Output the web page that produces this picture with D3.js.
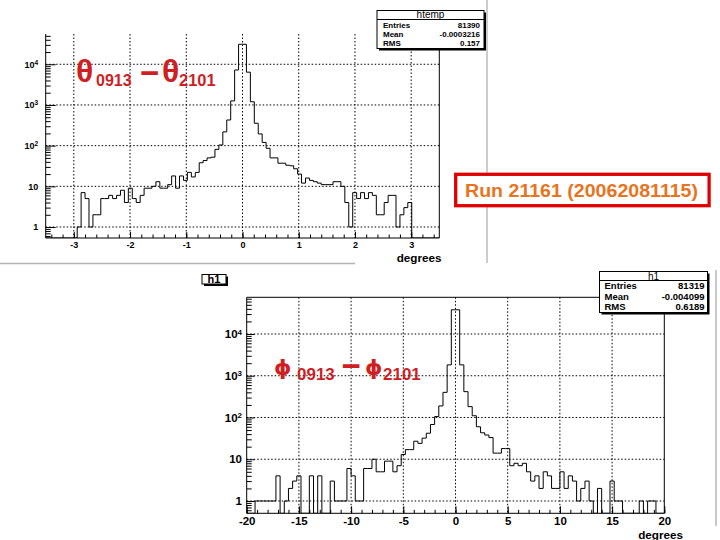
<!DOCTYPE html>
<html>
<head>
<meta charset="utf-8">
<script src="https://cdnjs.cloudflare.com/ajax/libs/d3/7.8.5/d3.min.js"></script>
<style>
  html, body { margin: 0; padding: 0; background: #fff; }
  svg { display: block; }
</style>
</head>
<body>
<div id="app"></div>
<script>
// 上图: theta 差的直方图 (100 bins, -3.5 .. 3.5)
const thetaCounts = [
  0, 0, 0, 0, 0, 0, 0, 0, 1, 7,
  5, 1, 2, 2, 5, 5, 6, 5, 6, 8,
  4, 9, 5, 4, 6, 9, 9, 10, 13, 9,
  9, 11, 18, 9, 18, 14, 22, 17, 22, 38,
  43, 50, 52, 81, 104, 218, 427, 1260, 7250, 31000,
  31000, 6400, 1200, 355, 194, 120, 86, 50, 50, 37,
  37, 33, 32, 27, 20, 12, 16, 14, 13, 12,
  11, 11, 11, 13, 13, 10, 4, 1, 7, 5,
  7, 5, 7, 6, 2, 2, 4, 6, 6, 1,
  2, 3, 4, 0, 0, 0, 0, 0, 0, 0
];
// 下图: phi 差的直方图 (100 bins, -20 .. 20)
const phiCounts = [
  0, 0, 1, 1, 1, 1, 1, 4, 0, 1,
  2, 3, 4, 0, 0, 4, 0, 4, 0, 0,
  3, 1, 1, 1, 6, 4, 1, 1, 6, 6,
  10, 5, 5, 9, 9, 5, 7, 13, 17, 17,
  27, 24, 32, 42, 68, 105, 189, 400, 1820, 38000,
  38000, 1820, 416, 182, 110, 60, 43, 38, 33, 14,
  14, 18, 18, 7, 8, 7, 8, 5, 3, 4,
  2, 5, 4, 2, 2, 5, 2, 4, 3, 1,
  2, 3, 1, 0, 2, 0, 0, 3, 1, 1,
  0, 0, 0, 0, 1, 0, 1, 1, 0, 0
];

const thetaXTicks = [-3, -2, -1, 0, 1, 2, 3];
const phiXTicks = [-20, -15, -10, -5, 0, 5, 10, 15, 20];
const yDecades = [1, 10, 100, 1000, 10000];

const statLabels = ['Entries', 'Mean', 'RMS'];
const thetaStats = ['81390', '-0.0003216', '0.157'];
const phiStats = ['81319', '-0.004099', '0.6189'];
const runLabel = 'Run 21161 (20062081115)';

const FONT = '"Liberation Sans", Arial, Helvetica, sans-serif';
const RED = '#cf1f24';

let width = 720;
let height = 540;

let svg = d3.select('#app').append('svg')
    .attr('width', width)
    .attr('height', height)
    .attr('font-family', FONT);

// 画布的灰色边框
svg.append('line').attr('x1', 487).attr('y1', 0).attr('x2', 487).attr('y2', 263)
    .attr('stroke', '#9a9a9a');
svg.append('line').attr('x1', 0).attr('y1', 263.5).attr('x2', 355).attr('y2', 263.5)
    .attr('stroke', '#b4b4b4').attr('stroke-width', 1.5);
svg.append('line').attr('x1', 716).attr('y1', 270).attr('x2', 716).attr('y2', 526)
    .attr('stroke', '#c8c8c8').attr('stroke-width', 2);

// 对数轴的次刻度 (2..9 x 10^n)
const logMinor = (domain) => {
    let out = [];
    for (let n = Math.floor(Math.log10(domain[0])); n <= Math.ceil(Math.log10(domain[1])); n++) {
        for (let k = 2; k <= 9; k++) {
            let v = k * Math.pow(10, n);
            if (v >= domain[0] && v <= domain[1]) out.push(v);
        }
    }
    return out;
};

const drawPanel = (p) => {
    let g = svg.append('g');
    let x = d3.scaleLinear().domain(p.xDomain).range([p.left, p.right]);
    let y = d3.scaleLog().domain(p.yDomain).range([p.bottom, p.top]);

    // 网格线
    g.selectAll('.vgrid')
        .data(p.xTicks.filter(t => t > p.xDomain[0] && t < p.xDomain[1]))
        .enter().append('line')
        .attr('x1', d => x(d)).attr('x2', d => x(d))
        .attr('y1', p.top).attr('y2', p.bottom)
        .attr('stroke', '#000').attr('stroke-width', 1)
        .attr('stroke-dasharray', p.dash);
    g.selectAll('.hgrid')
        .data(yDecades)
        .enter().append('line')
        .attr('x1', p.left).attr('x2', p.right)
        .attr('y1', d => y(d)).attr('y2', d => y(d))
        .attr('stroke', '#000').attr('stroke-width', 1)
        .attr('stroke-dasharray', p.dash);

    // 直方图 (阶梯线)
    let yMin = p.yDomain[0];
    let n = p.counts.length;
    let pts = [[p.binLow, yMin]];
    p.counts.forEach((c, i) => pts.push([p.binLow + i * p.binWidth, c]));
    pts.push([p.binLow + n * p.binWidth, yMin]);

    let clipId = 'clip' + p.name;
    svg.append('clipPath').attr('id', clipId)
        .append('rect')
        .attr('x', p.left).attr('y', p.top)
        .attr('width', p.right - p.left).attr('height', p.bottom - p.top);

    let line = d3.line()
        .x(d => x(d[0]))
        .y(d => y(Math.max(d[1], yMin)))
        .curve(d3.curveStepAfter);

    g.append('path')
        .datum(pts)
        .attr('clip-path', `url(#${clipId})`)
        .attr('d', line)
        .attr('fill', 'none')
        .attr('stroke', '#000')
        .attr('stroke-width', 1);

    // 边框
    let frame = [
        [p.left, p.top, p.left, p.bottom],
        [p.left, p.bottom, p.right, p.bottom],
        [p.right, p.top, p.right, p.bottom]
    ];
    if (p.frameTop) frame.push([p.left, p.top, p.right, p.top]);
    g.selectAll('.frame').data(frame).enter().append('line')
        .attr('x1', d => d[0]).attr('y1', d => d[1])
        .attr('x2', d => d[2]).attr('y2', d => d[3])
        .attr('stroke', '#000').attr('stroke-width', 1);

    // x 轴
    let minorX = d3.range(Math.ceil(p.xDomain[0] / p.xMinorStep - 1e-9),
        Math.floor(p.xDomain[1] / p.xMinorStep + 1e-9) + 1).map(k => k * p.xMinorStep);
    g.append('g')
        .attr('transform', `translate(0, ${p.bottom})`)
        .call(d3.axisBottom(x).tickValues(minorX).tickSize(-p.xMinorLen).tickFormat(''))
        .call(a => a.select('.domain').remove());
    let xAxis = g.append('g')
        .attr('transform', `translate(0, ${p.bottom})`)
        .call(d3.axisBottom(x).tickValues(p.xTicks).tickSize(-p.xMajorLen).tickFormat(d => d))
        .call(a => a.select('.domain').remove());
    xAxis.attr('font-family', FONT).attr('font-size', p.fontSize).attr('font-weight', 'bold');
    xAxis.selectAll('.tick text').attr('dy', null).attr('y', p.xLabelBase).attr('fill', '#000');

    // y 轴
    g.append('g')
        .attr('transform', `translate(${p.left}, 0)`)
        .call(d3.axisLeft(y).tickValues(logMinor(p.yDomain)).tickSize(-p.yMinorLen).tickFormat(''))
        .call(a => a.select('.domain').remove());
    let yAxis = g.append('g')
        .attr('transform', `translate(${p.left}, 0)`)
        .call(d3.axisLeft(y).tickValues(yDecades).tickSize(-p.yMajorLen).tickPadding(p.yLabelPad).tickFormat(''))
        .call(a => a.select('.domain').remove());
    yAxis.attr('font-family', FONT).attr('font-size', p.fontSize).attr('font-weight', 'bold');
    yAxis.selectAll('.tick text').each(function (d) {
        let t = d3.select(this).attr('fill', '#000');
        let e = Math.round(Math.log10(d));
        if (e === 0) { t.text('1'); return; }
        t.append('tspan').text('10');
        if (e > 1) {
            t.append('tspan').attr('dy', '-0.45em').attr('font-size', p.supSize).text(e);
        }
    });

    // 坐标轴标题
    svg.append('text')
        .attr('x', p.titleX).attr('y', p.titleY)
        .attr('text-anchor', 'end')
        .attr('font-size', p.titleSize).attr('font-weight', 'bold')
        .text('degrees');
};

// 统计框
const drawStats = (b, title, values) => {
    let g = svg.append('g');
    g.append('rect').attr('x', b.x + b.shadow).attr('y', b.y + b.shadow)
        .attr('width', b.w).attr('height', b.h).attr('fill', '#000');
    g.append('rect').attr('x', b.x).attr('y', b.y)
        .attr('width', b.w).attr('height', b.h)
        .attr('fill', '#fff').attr('stroke', '#000').attr('stroke-width', 1);
    g.append('line').attr('x1', b.x).attr('x2', b.x + b.w)
        .attr('y1', b.header).attr('y2', b.header).attr('stroke', '#000');
    g.append('text').attr('x', b.x + b.w / 2).attr('y', b.titleY)
        .attr('text-anchor', 'middle').attr('font-size', b.titleSize)
        .text(title);
    statLabels.forEach((l, i) => {
        g.append('text').attr('x', b.x + b.padL).attr('y', b.rows[i])
            .attr('font-size', b.fontSize).attr('font-weight', 'bold').text(l);
        g.append('text').attr('x', b.x + b.w - b.padR).attr('y', b.rows[i])
            .attr('text-anchor', 'end')
            .attr('font-size', b.fontSize).attr('font-weight', 'bold').text(values[i]);
    });
};

drawPanel({
    name: 'theta', counts: thetaCounts, binLow: -3.5, binWidth: 0.07,
    left: 45.7, right: 439.3, top: 34, bottom: 238, frameTop: false,
    xDomain: [-3.5, 3.5], yDomain: [0.537, 55500],
    xTicks: thetaXTicks, xMinorStep: 0.2,
    xMajorLen: 6, xMinorLen: 3.5, yMajorLen: 10, yMinorLen: 5,
    fontSize: 9, supSize: 6.5, xLabelBase: 9.5, yLabelPad: 7.5,
    dash: '1.5,2', titleX: 441.5, titleY: 262, titleSize: 11.7
});

drawPanel({
    name: 'phi', counts: phiCounts, binLow: -20, binWidth: 0.4,
    left: 246.7, right: 664.3, top: 297.3, bottom: 513.3, frameTop: true,
    xDomain: [-20, 20], yDomain: [0.507, 75700],
    xTicks: phiXTicks, xMinorStep: 1,
    xMajorLen: 7, xMinorLen: 3.5, yMajorLen: 8, yMinorLen: 5,
    fontSize: 11.5, supSize: 8, xLabelBase: 11.7, yLabelPad: 4.7,
    dash: '1.5,2', titleX: 683, titleY: 539, titleSize: 11.7
});

drawStats({ x: 377, y: 10.5, w: 107, h: 38, shadow: 2, header: 19.5, titleY: 18,
    titleSize: 10, fontSize: 8, padL: 6, padR: 4, rows: [28, 37.2, 46.4] }, 'htemp', thetaStats);
drawStats({ x: 599.5, y: 271.5, w: 108, h: 41, shadow: 2, header: 280.5, titleY: 279.5,
    titleSize: 10, fontSize: 9.5, padL: 5, padR: 3, rows: [289, 299.5, 310] }, 'h1', phiStats);

// 左上角 "h1" 标题框
svg.append('rect').attr('x', 204).attr('y', 276.5).attr('width', 24).attr('height', 9.5).attr('fill', '#000');
svg.append('rect').attr('x', 202).attr('y', 274.5).attr('width', 24).attr('height', 9.5)
    .attr('fill', '#fff').attr('stroke', '#000');
svg.append('text').attr('x', 214).attr('y', 283).attr('text-anchor', 'middle')
    .attr('font-size', 11).attr('font-weight', 'bold').text('h1');

// 红色公式标签
let t1 = svg.append('text').attr('fill', RED).attr('font-weight', 'bold');
t1.append('tspan').attr('x', 76).attr('y', 82).attr('font-size', 32).text('θ');
t1.append('tspan').attr('x', 96).attr('y', 86).attr('font-size', 16).text('0913');
t1.append('tspan').attr('x', 140).attr('y', 84).attr('font-size', 33).text('−');
t1.append('tspan').attr('x', 162).attr('y', 82).attr('font-size', 32).text('θ');
t1.append('tspan').attr('x', 179).attr('y', 86).attr('font-size', 16.5).text('2101');

let t2 = svg.append('text').attr('fill', RED).attr('font-weight', 'bold');
t2.append('tspan').attr('x', 274).attr('y', 375).attr('font-size', 22)
    .attr('font-family', '"DejaVu Sans", sans-serif').text('ϕ');
t2.append('tspan').attr('x', 297).attr('y', 380).attr('font-size', 17).text('0913');
t2.append('tspan').attr('x', 341.5).attr('y', 377).attr('font-size', 33).text('−');
t2.append('tspan').attr('x', 365).attr('y', 375).attr('font-size', 22)
    .attr('font-family', '"DejaVu Sans", sans-serif').text('ϕ');
t2.append('tspan').attr('x', 383).attr('y', 380).attr('font-size', 17).text('2101');

// Run 标签
svg.append('rect').attr('x', 455.7).attr('y', 174.3).attr('width', 253.4).attr('height', 31.4)
    .attr('fill', '#fff').attr('stroke', '#e00000').attr('stroke-width', 3.3);
svg.append('text').attr('x', 465).attr('y', 197)
    .attr('font-size', 19).attr('font-weight', 'bold').attr('fill', '#e8741e')
    .attr('textLength', 233).attr('lengthAdjust', 'spacingAndGlyphs')
    .text(runLabel);
</script>
</body>
</html>
